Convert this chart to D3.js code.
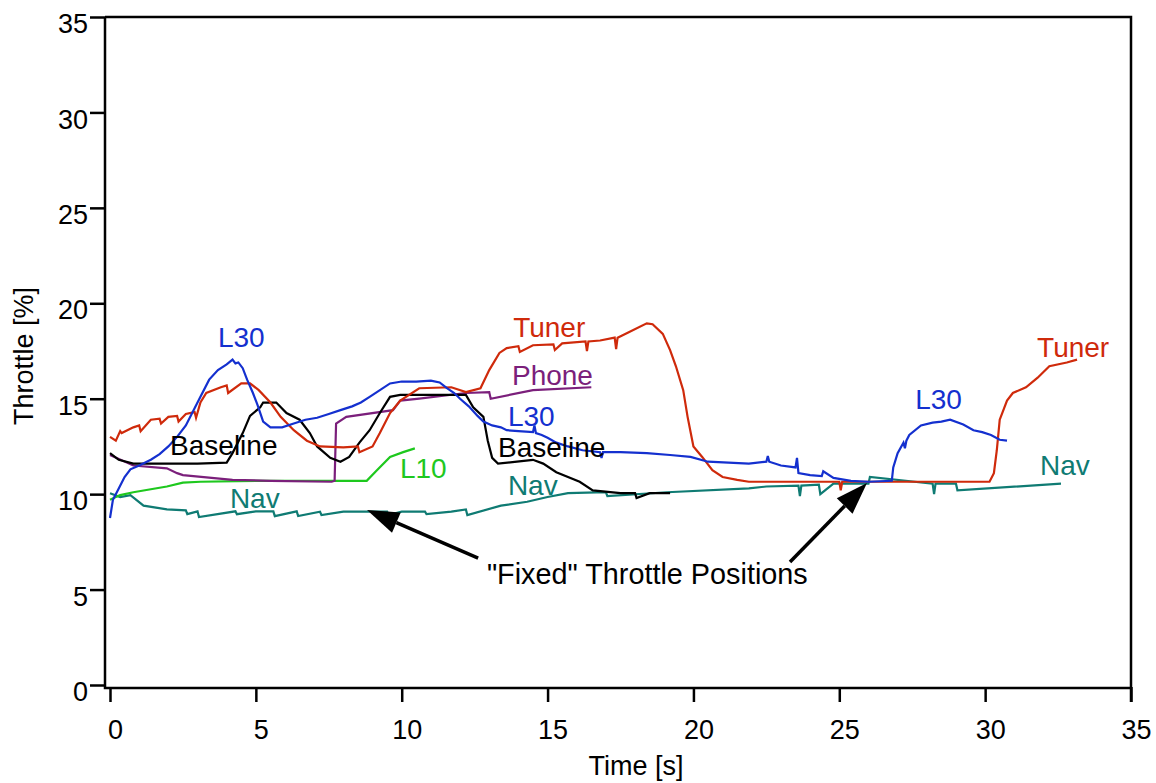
<!DOCTYPE html>
<html>
<head>
<meta charset="utf-8">
<script src="https://cdn.jsdelivr.net/npm/d3@7"></script>
<style>
  body { margin: 0; background: #fff; }
  svg { display: block; font-family: "Liberation Sans", Arial, Helvetica, sans-serif; }
</style>
</head>
<body>
<div class="viz"></div>
<script>
// throttle traces, time in seconds, throttle in percent
const l30Time = [0, 0.1, 0.3, 0.5, 0.7, 1.0, 1.4, 1.7, 2.0, 2.3, 2.6, 2.9, 3.1, 3.4, 3.7, 4.0, 4.2, 4.3, 4.4, 4.55, 4.7, 4.9, 5.05, 5.25, 5.5, 5.9, 6.3, 6.7, 7.1, 7.5, 7.9, 8.3, 8.6, 8.9, 9.2, 9.6, 10.0, 10.5, 11.0, 11.3, 11.55, 11.8, 12.0, 12.3, 12.6, 12.8, 13.1, 13.4, 13.6, 14.0, 14.5, 14.55, 14.6, 14.8, 15.0, 15.3, 15.7, 16.2, 16.8, 16.85, 16.9, 17.5, 18.4, 19.2, 19.9, 20.5, 21.2, 21.9, 22.5, 22.55, 22.6, 23.0, 23.5, 23.55, 23.6, 24.0, 24.4, 24.45, 24.8, 25.4, 26.0, 26.8, 26.85, 27.0, 27.2, 27.25, 27.3, 27.4, 27.8, 28.2, 28.5, 28.8, 29.25, 29.6, 29.9, 30.2, 30.5, 30.75];
const l30Value = [8.75, 9.7, 10.3, 10.9, 11.3, 11.5, 11.8, 12.1, 12.5, 13.0, 13.6, 14.5, 15.1, 16.0, 16.5, 16.8, 17.05, 16.85, 16.9, 16.6, 16.0, 15.3, 14.7, 13.8, 13.5, 13.5, 13.7, 13.9, 14.0, 14.2, 14.4, 14.6, 14.8, 15.1, 15.4, 15.8, 15.9, 15.9, 15.95, 15.85, 15.55, 15.3, 15.0, 14.6, 14.1, 13.8, 13.6, 13.5, 13.35, 13.3, 13.25, 13.6, 13.2, 13.1, 12.95, 12.7, 12.5, 12.3, 12.2, 11.9, 12.2, 12.2, 12.15, 12.05, 11.95, 11.7, 11.65, 11.6, 11.7, 12.0, 11.7, 11.5, 11.4, 11.9, 11.1, 11.0, 10.95, 11.2, 10.85, 10.7, 10.65, 10.7, 11.4, 12.15, 12.7, 12.4, 12.8, 13.1, 13.6, 13.75, 13.8, 13.9, 13.65, 13.35, 13.25, 13.1, 12.85, 12.8];

const tunerTime = [0, 0.2, 0.35, 0.4, 0.8, 1.0, 1.05, 1.4, 1.7, 1.75, 2.0, 2.3, 2.35, 2.6, 2.9, 2.95, 3.1, 3.3, 3.8, 4.0, 4.05, 4.5, 4.8, 5.1, 5.5, 5.85, 6.3, 6.75, 7.2, 8.0, 8.5, 8.55, 9.0, 9.25, 9.6, 9.95, 10.6, 11.7, 12.2, 12.7, 13.0, 13.35, 13.6, 14.0, 14.05, 14.5, 15.2, 15.25, 15.5, 16.3, 16.35, 16.4, 16.8, 17.3, 17.35, 17.4, 17.8, 18.4, 18.6, 18.95, 19.2, 19.4, 19.65, 19.8, 20.0, 20.3, 20.65, 21.0, 21.5, 21.9, 25.0, 25.05, 25.1, 28.0, 30.15, 30.3, 30.4, 30.5, 30.75, 30.95, 31.4, 31.8, 32.2, 32.8, 33.15];
const tunerValue = [13.0, 12.8, 13.3, 13.2, 13.5, 13.6, 13.3, 13.9, 13.95, 13.7, 14.05, 14.1, 13.8, 14.2, 14.3, 14.0, 14.8, 15.3, 15.6, 15.7, 15.3, 15.8, 15.8, 15.45, 14.8, 14.05, 13.35, 12.8, 12.5, 12.45, 12.5, 12.2, 12.5, 13.2, 14.25, 14.9, 15.55, 15.6, 15.35, 15.55, 16.5, 17.4, 17.65, 17.75, 17.45, 17.8, 17.85, 17.55, 17.9, 18.0, 17.5, 18.0, 18.05, 18.2, 17.6, 18.2, 18.5, 18.95, 18.9, 18.4, 17.55, 16.7, 15.45, 14.05, 12.5, 11.95, 11.25, 10.9, 10.75, 10.65, 10.65, 10.2, 10.65, 10.65, 10.65, 11.1, 12.3, 13.9, 14.9, 15.3, 15.6, 16.1, 16.7, 16.9, 17.05];

const baselineTime = [0, 0.3, 0.8, 2.0, 3.0, 4.0, 4.2, 4.55, 4.8, 5.15, 5.25, 5.7, 6.05, 6.5, 6.85, 7.1, 7.55, 7.9, 8.2, 8.55, 8.9, 9.25, 9.6, 9.95, 12.2, 12.45, 12.8, 12.95, 13.1, 13.3, 13.95, 14.5, 14.85, 15.3, 16.1, 16.55, 17.5, 18.0, 18.05, 18.5, 19.2];
const baselineValue = [12.15, 11.8, 11.6, 11.6, 11.6, 11.65, 12.15, 13.2, 14.1, 14.55, 14.8, 14.8, 14.25, 13.9, 13.2, 12.5, 11.9, 11.7, 11.95, 12.7, 13.35, 14.25, 15.1, 15.2, 15.2, 14.55, 14.05, 12.8, 11.9, 11.6, 11.7, 11.8, 11.6, 11.15, 10.65, 10.2, 10.05, 10.05, 9.8, 10.05, 10.05];

const phoneTime = [0, 0.8, 1.95, 2.3, 2.5, 4.2, 5.5, 7.6, 7.7, 7.75, 8.1, 9.7, 9.95, 10.6, 12.2, 13.0, 13.05, 14.5, 16.5];
const phoneValue = [12.05, 11.5, 11.35, 11.1, 11.0, 10.75, 10.7, 10.65, 10.7, 13.7, 14.05, 14.4, 14.9, 15.0, 15.3, 15.35, 15.0, 15.45, 15.6];

const l10Time = [0, 0.35, 0.8, 1.95, 2.5, 3.1, 5.0, 7.0, 8.8, 9.15, 9.6, 10.05, 10.45];
const l10Value = [9.7, 9.95, 10.1, 10.4, 10.6, 10.65, 10.7, 10.7, 10.7, 11.25, 11.95, 12.2, 12.4];

const navTime = [0, 0.35, 0.7, 1.15, 1.95, 2.6, 2.65, 3.0, 3.05, 4.3, 4.35, 5.0, 5.6, 5.65, 6.4, 6.45, 7.2, 7.25, 8.0, 9.5, 9.55, 10.0, 10.8, 10.85, 11.7, 12.2, 12.25, 13.4, 14.3, 15.0, 15.7, 17.0, 17.05, 19.1, 21.9, 22.5, 23.6, 23.65, 23.7, 24.3, 24.35, 24.8, 26.0, 26.05, 28.2, 28.25, 28.3, 29.0, 29.05, 32.6];
const navValue = [10.05, 9.85, 9.95, 9.4, 9.2, 9.15, 8.95, 9.1, 8.8, 9.1, 8.95, 9.1, 9.1, 8.85, 9.1, 8.85, 9.08, 8.9, 9.08, 9.08, 8.9, 9.08, 9.08, 8.95, 9.08, 9.2, 8.9, 9.4, 9.6, 9.85, 10.05, 10.1, 9.9, 10.1, 10.3, 10.4, 10.45, 9.9, 10.45, 10.5, 10.0, 10.55, 10.55, 10.9, 10.55, 10.0, 10.55, 10.55, 10.2, 10.55];

const series = [
  { name: 'Nav', color: '#0f7b73', time: navTime, value: navValue },
  { name: 'L10', color: '#1ec81e', time: l10Time, value: l10Value },
  { name: 'Phone', color: '#7b1f7b', time: phoneTime, value: phoneValue },
  { name: 'Baseline', color: '#000000', time: baselineTime, value: baselineValue },
  { name: 'Tuner', color: '#cf2a0b', time: tunerTime, value: tunerValue },
  { name: 'L30', color: '#1430cf', time: l30Time, value: l30Value },
];

// in-plot labels: text, anchor time, anchor throttle
const labelText = ['L30', 'Baseline', 'L10', 'Nav', 'Tuner', 'Phone', 'L30', 'Baseline', 'Nav', 'L30', 'Tuner', 'Nav'];
const labelTime = [3.7, 2.06, 9.94, 4.11, 13.82, 13.78, 13.64, 13.3, 13.64, 27.6, 31.78, 31.88];
const labelValue = [17.71, 12.05, 10.84, 9.27, 18.23, 15.72, 13.57, 11.94, 9.95, 14.46, 17.18, 11.0];

const xTicks = [0, 5, 10, 15, 20, 25, 30, 35];
const yTicks = [0, 5, 10, 15, 20, 25, 30, 35];

const width = 1156;
const height = 783;

const svg = d3.select('.viz')
  .append('svg')
  .attr('width', width)
  .attr('height', height);

const xScale = d3.scaleLinear().domain([0, 35]).range([110, 1131]);
const yScale = d3.scaleLinear().domain([0, 35]).range([685, 17]);

const colorOf = name => series.find(s => s.name === name).color;

// frame
const frame = svg.append('g').attr('stroke', '#000').attr('stroke-width', 2.5).attr('fill', 'none');
frame.append('path').attr('d', `M105 ${yScale(35)} H${xScale(35)} V702`);
frame.append('path').attr('d', `M105 ${yScale(35)} V688 H${xScale(35)}`);

// y axis
const yAxis = svg.append('g')
  .attr('transform', 'translate(105 0)')
  .call(d3.axisLeft(yScale).tickValues(yTicks).tickSize(15).tickPadding(2));
yAxis.select('.domain').remove();
yAxis.selectAll('line').attr('stroke-width', 2.5);
yAxis.selectAll('text')
  .attr('font-size', 27)
  .attr('font-family', '"Liberation Sans", Arial, sans-serif')
  .attr('fill', '#000')
  .attr('dy', '0.95em')
  .attr('y', -10);

// x axis
const xAxis = svg.append('g')
  .attr('transform', 'translate(0 687)')
  .call(d3.axisBottom(xScale).tickValues(xTicks).tickSize(15).tickPadding(18));
xAxis.select('.domain').remove();
xAxis.selectAll('line').attr('stroke-width', 2.5);
xAxis.selectAll('text')
  .attr('font-size', 27)
  .attr('font-family', '"Liberation Sans", Arial, sans-serif')
  .attr('fill', '#000')
  .attr('dx', 5);

// axis titles
svg.append('text')
  .attr('x', 636)
  .attr('y', 775)
  .attr('text-anchor', 'middle')
  .attr('font-size', 27)
  .text('Time [s]');

svg.append('text')
  .attr('transform', 'translate(33 356) rotate(-90)')
  .attr('text-anchor', 'middle')
  .attr('font-size', 27)
  .text('Throttle [%]');

// traces
const line = d3.line()
  .x(d => xScale(d[0]))
  .y(d => yScale(d[1]));

svg.append('g')
  .selectAll('path')
  .data(series)
  .join('path')
  .attr('d', s => line(s.time.map((t, i) => [t, s.value[i]])))
  .attr('fill', 'none')
  .attr('stroke', s => s.color)
  .attr('stroke-width', 2.2)
  .attr('stroke-linejoin', 'miter');

// labels
svg.append('g')
  .selectAll('text')
  .data(labelText)
  .join('text')
  .attr('x', (d, i) => xScale(labelTime[i]))
  .attr('y', (d, i) => yScale(labelValue[i]))
  .attr('font-size', 28)
  .attr('fill', d => colorOf(d))
  .text(d => d);

// annotation with arrows
const arrows = [
  { from: [12.62, 6.65], to: [8.81, 9.17] },
  { from: [23.31, 6.44], to: [25.95, 10.58] },
];

const arrowGroup = svg.append('g');
arrows.forEach(({ from, to }) => {
  const x1 = xScale(from[0]);
  const y1 = yScale(from[1]);
  const x2 = xScale(to[0]);
  const y2 = yScale(to[1]);
  const angle = Math.atan2(y2 - y1, x2 - x1);
  const headLength = 32;
  const headHalf = 11;
  const bx = x2 - headLength * Math.cos(angle);
  const by = y2 - headLength * Math.sin(angle);
  arrowGroup.append('line')
    .attr('x1', x1).attr('y1', y1)
    .attr('x2', bx).attr('y2', by)
    .attr('stroke', '#000')
    .attr('stroke-width', 3.5);
  const px = -Math.sin(angle) * headHalf;
  const py = Math.cos(angle) * headHalf;
  arrowGroup.append('path')
    .attr('d', `M${x2} ${y2} L${bx + px} ${by + py} L${bx - px} ${by - py} Z`)
    .attr('fill', '#000');
});

svg.append('text')
  .attr('x', xScale(12.92))
  .attr('y', yScale(5.29))
  .attr('font-size', 28.8)
  .text('"Fixed" Throttle Positions');
</script>
</body>
</html>
